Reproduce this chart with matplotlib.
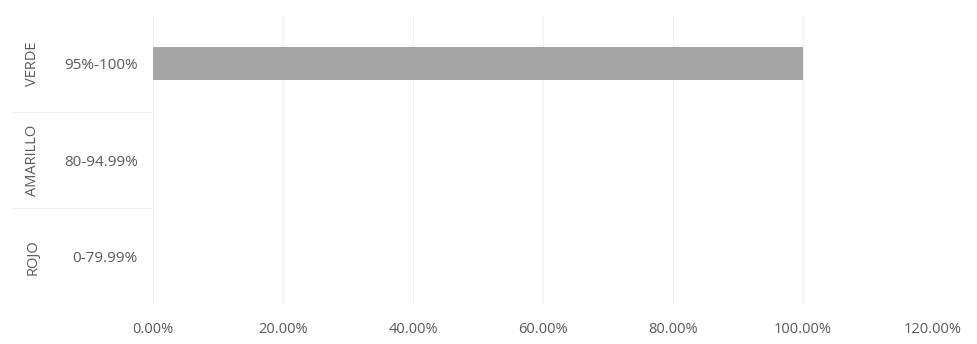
import matplotlib
matplotlib.use("Agg")
import matplotlib.pyplot as plt
from matplotlib.ticker import FuncFormatter, MultipleLocator

groups = ["VERDE", "AMARILLO", "ROJO"]
ranges = ["95%-100%", "80-94.99%", "0-79.99%"]
values = [100.0, 0.0, 0.0]

plt.rcParams['font.family'] = ['Open Sans', 'DejaVu Sans']
txt = "#595959"

fig = plt.figure(figsize=(9.77, 3.44), dpi=100)
ax = fig.add_axes([153/977, 1-305/344, (933-153)/977, (305-15)/344])

ypos = list(range(len(groups)))
ax.barh(ypos, values, height=0.34, color="#a6a6a6", zorder=3)
ax.set_ylim(len(groups)-0.5, -0.5)
ax.set_xlim(0, 120)
ax.xaxis.set_major_locator(MultipleLocator(20))
ax.xaxis.set_major_formatter(FuncFormatter(lambda v, p: f"{v:.2f}%"))
ax.grid(axis="x", color="#f0f0f0", linewidth=0.8, zorder=0)
for s in ax.spines.values():
    s.set_visible(False)
ax.tick_params(axis="x", length=0, pad=12, labelsize=10.5, labelcolor=txt)
ax.set_yticks(ypos)
ax.set_yticklabels(ranges)
ax.tick_params(axis="y", length=0, pad=11, labelsize=11, labelcolor=txt)

trans = ax.get_yaxis_transform()
for i, g in enumerate(groups):
    ax.text(-(153-33)/(933-153), i, g, transform=trans, rotation=90,
            ha="center", va="center", fontsize=10.5, color=txt, clip_on=False)
# faint separators in label area
for b in [0.5, 1.5]:
    ax.plot([-(153-12)/(933-153), 0], [b, b], transform=trans, color="#f0f0f0",
            linewidth=0.8, clip_on=False)

fig.savefig("out.png", dpi=100)
